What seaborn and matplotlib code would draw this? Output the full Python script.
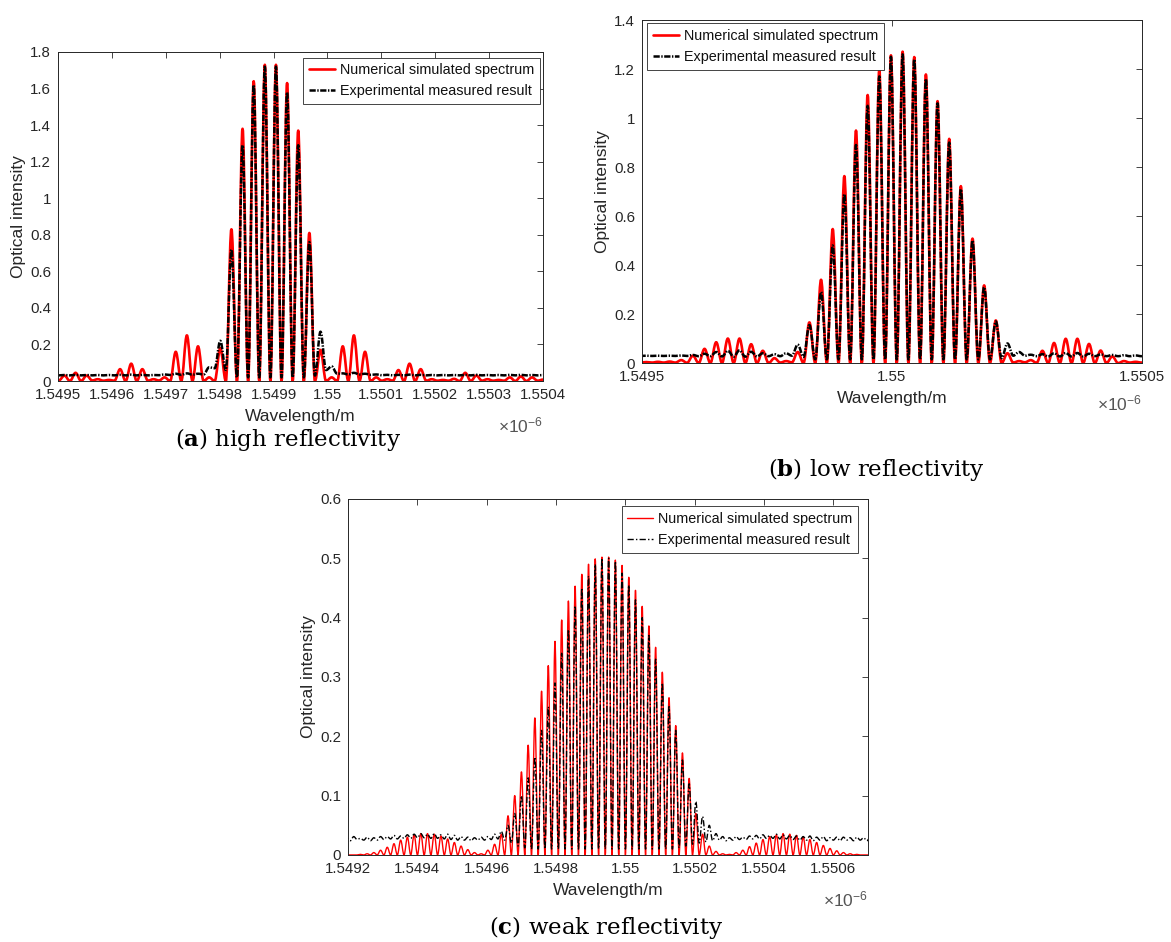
import numpy as np
import pandas as pd
import matplotlib
matplotlib.use("Agg")
import matplotlib.pyplot as plt
import seaborn as sns
from matplotlib.lines import Line2D
from matplotlib.patches import PathPatch
from matplotlib.path import Path
from matplotlib.ticker import FixedLocator, FuncFormatter

# ---------------------------------------------------------------------------
# Fringe data: each spectrum is stored as the heights of its fringe maxima and
# of the minima between them, on a regular fringe grid (wavelengths in nm).
# ---------------------------------------------------------------------------

# (a) high reflectivity
A_GRID_START = 1549.4913
A_GRID_STEP = 0.02066
A_SIM_PEAK = [0.012, 0.030, 0.045, 0.030, 0.010, 0.006, 0.065, 0.095, 0.065, 0.010,
              0.020, 0.160, 0.250, 0.190, 0.020, 0.180, 0.830, 1.380, 1.640, 1.730,
              1.730, 1.630, 1.370, 0.810, 0.170, 0.020, 0.190, 0.250, 0.160, 0.020,
              0.010, 0.060, 0.095, 0.065, 0.010, 0.006, 0.012, 0.045, 0.030, 0.010,
              0.006, 0.020, 0.025, 0.020, 0.008]
A_SIM_TROUGH = [0.005, 0.003, 0.000, 0.000, 0.003, 0.002, 0.002, 0.000, 0.000, 0.002,
                0.003, 0.000, 0.000, 0.000, 0.000, 0.000, 0.000, 0.000, 0.000, 0.000,
                0.000, 0.000, 0.000, 0.000, 0.000, 0.000, 0.000, 0.000, 0.000, 0.000,
                0.002, 0.002, 0.000, 0.000, 0.002, 0.002, 0.002, 0.000, 0.000, 0.002,
                0.002, 0.002, 0.000, 0.000, 0.002, 0.004]
A_EXP_PEAK = [0.033, 0.033, 0.034, 0.033, 0.033, 0.033, 0.034, 0.035, 0.034, 0.033,
              0.036, 0.040, 0.042, 0.040, 0.075, 0.220, 0.720, 1.290, 1.620, 1.720,
              1.720, 1.580, 1.290, 0.760, 0.270, 0.080, 0.042, 0.045, 0.040, 0.036,
              0.034, 0.034, 0.035, 0.034, 0.033, 0.033, 0.033, 0.034, 0.034, 0.033,
              0.033, 0.034, 0.034, 0.033, 0.033]
A_EXP_TROUGH = [0.031, 0.031, 0.031, 0.031, 0.031, 0.031, 0.031, 0.031, 0.031, 0.031,
                0.032, 0.033, 0.034, 0.035, 0.036, 0.070, 0.060, 0.020, 0.020, 0.020,
                0.020, 0.020, 0.020, 0.020, 0.030, 0.060, 0.040, 0.036, 0.036, 0.034,
                0.032, 0.031, 0.031, 0.031, 0.031, 0.031, 0.031, 0.031, 0.031, 0.031,
                0.031, 0.031, 0.031, 0.031, 0.031, 0.031]
A_XTICKS = [1.5495, 1.5496, 1.5497, 1.5498, 1.5499, 1.5500, 1.5501, 1.5502, 1.5503, 1.5504]
A_YTICKS = [0, 0.2, 0.4, 0.6, 0.8, 1.0, 1.2, 1.4, 1.6, 1.8]

# (b) low reflectivity
B_GRID_START = 1549.4854
B_GRID_STEP = 0.0233
B_SIM_PEAK = [0.004, 0.004, 0.005, 0.006, 0.012, 0.030, 0.058, 0.085, 0.100, 0.100,
              0.077, 0.050, 0.020, 0.008, 0.045, 0.166, 0.340, 0.547, 0.763, 0.949,
              1.094, 1.196, 1.256, 1.271, 1.249, 1.178, 1.069, 0.915, 0.722, 0.508,
              0.317, 0.174, 0.040, 0.008, 0.012, 0.050, 0.082, 0.099, 0.099, 0.078,
              0.051, 0.027, 0.008, 0.005, 0.004]
B_SIM_TROUGH = [0.002, 0.002, 0.002, 0.002, 0.002, 0.001, 0.000, 0.000, 0.000, 0.000,
                0.000, 0.000, 0.000, 0.002, 0.003, 0.000, 0.000, 0.000, 0.000, 0.000,
                0.000, 0.000, 0.000, 0.000, 0.000, 0.000, 0.000, 0.000, 0.000, 0.000,
                0.000, 0.000, 0.000, 0.002, 0.003, 0.001, 0.000, 0.000, 0.000, 0.000,
                0.000, 0.000, 0.000, 0.002, 0.002, 0.002]
B_EXP_PEAK = [0.030, 0.030, 0.030, 0.030, 0.031, 0.033, 0.038, 0.045, 0.050, 0.052,
              0.046, 0.040, 0.036, 0.040, 0.075, 0.155, 0.290, 0.480, 0.690, 0.890,
              1.050, 1.170, 1.250, 1.260, 1.240, 1.160, 1.060, 0.900, 0.710, 0.500,
              0.310, 0.170, 0.080, 0.045, 0.034, 0.036, 0.040, 0.041, 0.041, 0.038,
              0.035, 0.033, 0.032, 0.031, 0.031]
B_EXP_TROUGH = [0.029, 0.029, 0.029, 0.029, 0.029, 0.029, 0.028, 0.028, 0.027, 0.026,
                0.026, 0.027, 0.028, 0.028, 0.030, 0.025, 0.015, 0.015, 0.015, 0.015,
                0.015, 0.015, 0.015, 0.015, 0.015, 0.015, 0.015, 0.015, 0.015, 0.015,
                0.015, 0.015, 0.020, 0.030, 0.030, 0.028, 0.027, 0.027, 0.027, 0.027,
                0.028, 0.028, 0.028, 0.028, 0.028, 0.028]
B_XTICKS = [1.5495, 1.5500, 1.5505]
B_YTICKS = [0, 0.2, 0.4, 0.6, 0.8, 1.0, 1.2, 1.4]

# (c) weak reflectivity
C_GRID_START = 1549.1971
C_GRID_STEP = 0.01935
C_SIM_PEAK = [0.000, 0.000, 0.001, 0.002, 0.004, 0.008, 0.013, 0.019, 0.025, 0.030,
              0.034, 0.036, 0.036, 0.035, 0.032, 0.027, 0.021, 0.015, 0.009, 0.004,
              0.002, 0.008, 0.018, 0.035,
              0.066, 0.100, 0.140, 0.185, 0.231, 0.276, 0.319, 0.360, 0.396, 0.428,
              0.453, 0.473, 0.490, 0.499, 0.502, 0.502, 0.497, 0.488, 0.468, 0.446,
              0.419, 0.386, 0.350, 0.308, 0.265, 0.218, 0.172, 0.129, 0.070, 0.035,
              0.015, 0.006, 0.002, 0.001, 0.004, 0.008, 0.014, 0.020, 0.026, 0.031,
              0.034, 0.036, 0.035, 0.033, 0.030, 0.026, 0.021, 0.016, 0.011, 0.007,
              0.004, 0.002, 0.001, 0.000, 0.000]
C_SIM_TROUGH = [0.0, 0.0, 0.0, 0.0, 0.0, 0.0, 0.0, 0.0, 0.0, 0.0,
                0.0, 0.0, 0.0, 0.0, 0.0, 0.0, 0.0, 0.0, 0.0, 0.0,
                0.0, 0.0, 0.0, 0.0, 0.0, 0.0, 0.0, 0.0, 0.0, 0.0,
                0.0, 0.0, 0.0, 0.0, 0.0, 0.0, 0.0, 0.0, 0.0, 0.0,
                0.0, 0.0, 0.0, 0.0, 0.0, 0.0, 0.0, 0.0, 0.0, 0.0,
                0.0, 0.0, 0.0, 0.0, 0.0, 0.0, 0.0, 0.0, 0.0, 0.0,
                0.0, 0.0, 0.0, 0.0, 0.0, 0.0, 0.0, 0.0, 0.0, 0.0,
                0.0, 0.0, 0.0, 0.0, 0.0, 0.0, 0.0, 0.0, 0.0, 0.0]
C_EXP_PEAK = [0.029, 0.031, 0.028, 0.030, 0.029, 0.031, 0.031, 0.033, 0.032, 0.034,
              0.035, 0.036, 0.035, 0.036, 0.034, 0.035, 0.033, 0.031, 0.030, 0.029,
              0.030, 0.031, 0.035, 0.040,
              0.050, 0.070, 0.100, 0.130, 0.165, 0.210, 0.250, 0.290, 0.340, 0.380,
              0.420, 0.450, 0.470, 0.490, 0.500, 0.500, 0.495, 0.475, 0.455, 0.430,
              0.400, 0.370, 0.330, 0.290, 0.250, 0.210, 0.160, 0.120, 0.090, 0.065,
              0.050, 0.036, 0.031, 0.029, 0.031, 0.030, 0.032, 0.033, 0.034, 0.033,
              0.035, 0.034, 0.033, 0.032, 0.031, 0.032, 0.030, 0.031, 0.029, 0.030,
              0.030, 0.029, 0.030, 0.029, 0.030]
C_EXP_TROUGH = [0.025, 0.024, 0.026, 0.025, 0.024, 0.025, 0.026, 0.027, 0.027, 0.028,
                0.028, 0.029, 0.029, 0.028, 0.028, 0.027, 0.026, 0.025, 0.025, 0.024,
                0.025, 0.025, 0.026, 0.027, 0.025, 0.020, 0.015, 0.012, 0.010, 0.010,
                0.010, 0.010, 0.010, 0.010, 0.010, 0.010, 0.010, 0.010, 0.010, 0.010,
                0.010, 0.010, 0.010, 0.010, 0.010, 0.010, 0.010, 0.010, 0.010, 0.010,
                0.012, 0.015, 0.018, 0.020, 0.022, 0.024, 0.025, 0.024, 0.025, 0.026,
                0.026, 0.027, 0.027, 0.028, 0.028, 0.027, 0.027, 0.026, 0.025, 0.025,
                0.024, 0.025, 0.024, 0.025, 0.024, 0.025, 0.024, 0.025, 0.024, 0.025]
C_XTICKS = [1.5492, 1.5494, 1.5496, 1.5498, 1.5500, 1.5502, 1.5504, 1.5506]
C_YTICKS = [0, 0.1, 0.2, 0.3, 0.4, 0.5, 0.6]

SERIES_LABELS = ["Numerical simulated spectrum", "Experimental measured result"]
CAPTIONS = [("a", "high reflectivity"), ("b", "low reflectivity"), ("c", "weak reflectivity")]

# ---------------------------------------------------------------------------
# Styling
# ---------------------------------------------------------------------------
sns.set_theme(style="white")
plt.rcParams["font.family"] = ["Liberation Sans", "DejaVu Sans"]
plt.rcParams["lines.scale_dashes"] = False
plt.rcParams["lines.solid_joinstyle"] = "round"
plt.rcParams["lines.dash_joinstyle"] = "round"
plt.rcParams["lines.solid_capstyle"] = "round"

INK = "#262626"
SIM_COLOR = "#ff0000"
EXP_COLOR = "#000000"


def fringe_table(start, step, peaks, troughs):
    """Alternating minimum / maximum vertices of a fringe spectrum (x in um)."""
    peaks = np.asarray(peaks, dtype=float)
    troughs = np.asarray(troughs, dtype=float)
    n = len(peaks)
    peak_x = start + np.arange(n) * step
    trough_x = start + (np.arange(n + 1) - 0.5) * step
    x = np.empty(2 * n + 1)
    y = np.empty(2 * n + 1)
    x[0::2], x[1::2] = trough_x, peak_x
    y[0::2], y[1::2] = troughs, peaks
    return pd.DataFrame({"wavelength": x / 1000.0, "intensity": y})


def smooth_fringes(ax, line, dashes=None):
    """Redraw a seaborn line as a smooth curve through its extrema
    (cubic segments with flat tangents at every maximum and minimum)."""
    xy = line.get_xydata()
    verts = [tuple(xy[0])]
    codes = [Path.MOVETO]
    for (x0, y0), (x1, y1) in zip(xy[:-1], xy[1:]):
        dx = x1 - x0
        verts += [(x0 + 0.36 * dx, y0), (x1 - 0.36 * dx, y1), (x1, y1)]
        codes += [Path.CURVE4] * 3
    patch = PathPatch(Path(verts, codes), fill=False, edgecolor=line.get_color(),
                      lw=line.get_linewidth(), joinstyle="round",
                      capstyle="round" if dashes is None else "butt")
    if dashes is not None:
        patch.set_linestyle((0, dashes))
    line.remove()
    ax.add_patch(patch)
    return patch


def fmt(v, _pos):
    return f"{round(v, 6):g}"


def draw_panel(ax, grid, sim, exp, xlim, xticks, ylim, yticks,
               lw_sim, lw_exp, dashes, legend_loc, legend_anchor, mult_drop):
    start, step = grid
    sim_df = fringe_table(start, step, *sim)
    exp_df = fringe_table(start, step, *exp)

    sns.lineplot(data=sim_df, x="wavelength", y="intensity", ax=ax, color=SIM_COLOR,
                 lw=lw_sim, sort=False, estimator=None)
    smooth_fringes(ax, ax.lines[-1])
    sns.lineplot(data=exp_df, x="wavelength", y="intensity", ax=ax, color=EXP_COLOR,
                 lw=lw_exp, sort=False, estimator=None)
    smooth_fringes(ax, ax.lines[-1], dashes)

    ax.set_xlim(*xlim)
    ax.set_ylim(*ylim)
    ax.xaxis.set_major_locator(FixedLocator(xticks))
    ax.yaxis.set_major_locator(FixedLocator(yticks))
    ax.xaxis.set_major_formatter(FuncFormatter(fmt))
    ax.yaxis.set_major_formatter(FuncFormatter(fmt))
    ax.tick_params(direction="in", length=4, width=0.6, top=True, right=True,
                   colors=INK, labelsize=10.8, pad=5)
    for sp in ax.spines.values():
        sp.set_color(INK)
        sp.set_linewidth(0.7)
        sp.set_zorder(3)

    ax.set_xlabel("Wavelength/m", fontsize=12.5, color=INK, labelpad=5)
    ax.set_ylabel("Optical intensity", fontsize=12.5, color=INK, labelpad=3)

    ax.annotate(r"$\mathregular{\times10^{-6}}$", xy=(1.0, 0.0), xycoords="axes fraction",
                xytext=(0, -mult_drop), textcoords="offset points",
                ha="right", va="top", fontsize=12.5, color="#555555")

    handles = [Line2D([], [], color=SIM_COLOR, lw=lw_sim),
               Line2D([], [], color=EXP_COLOR, lw=lw_exp, dashes=dashes)]
    leg = ax.legend(handles, SERIES_LABELS, loc=legend_loc, bbox_to_anchor=legend_anchor,
                    borderaxespad=0.0, frameon=True, fancybox=False, framealpha=1.0,
                    edgecolor=INK, fontsize=10.4, handlelength=1.8, handletextpad=0.3,
                    borderpad=0.4, labelspacing=0.45)
    leg.get_frame().set_linewidth(0.6)
    leg.set_zorder(5)
    for t in leg.get_texts():
        t.set_color("#111111")


fig = plt.figure(figsize=(11.71, 9.42), dpi=100, facecolor="white")

ax_a = fig.add_axes([0.0495, 0.5955, 0.4142, 0.3493])
ax_b = fig.add_axes([0.5482, 0.6146, 0.4270, 0.3641])
ax_c = fig.add_axes([0.2972, 0.0924, 0.4441, 0.3779])

draw_panel(ax_a, (A_GRID_START, A_GRID_STEP), (A_SIM_PEAK, A_SIM_TROUGH),
           (A_EXP_PEAK, A_EXP_TROUGH), (1.5495, 1.5504), A_XTICKS, (0, 1.8), A_YTICKS,
           lw_sim=1.9, lw_exp=1.8, dashes=(4.5, 1.1, 1.0, 1.1),
           legend_loc="upper right", legend_anchor=(0.993, 0.983), mult_drop=25)
draw_panel(ax_b, (B_GRID_START, B_GRID_STEP), (B_SIM_PEAK, B_SIM_TROUGH),
           (B_EXP_PEAK, B_EXP_TROUGH), (1.5495, 1.5505), B_XTICKS, (0, 1.4), B_YTICKS,
           lw_sim=1.9, lw_exp=1.8, dashes=(4.5, 1.1, 1.0, 1.1),
           legend_loc="upper left", legend_anchor=(0.011, 0.99), mult_drop=22)
draw_panel(ax_c, (C_GRID_START, C_GRID_STEP), (C_SIM_PEAK, C_SIM_TROUGH),
           (C_EXP_PEAK, C_EXP_TROUGH), (1.5492, 1.5507), C_XTICKS, (0, 0.6), C_YTICKS,
           lw_sim=1.0, lw_exp=1.0, dashes=(4.5, 1.6, 1.0, 1.6),
           legend_loc="upper right", legend_anchor=(0.98, 0.979), mult_drop=25)

caption_pos = [(0.246, 0.533), (0.748, 0.502), (0.518, 0.0149)]
for (letter, text), (cx, cy) in zip(CAPTIONS, caption_pos):
    fig.text(cx, cy, rf"($\mathbf{{{letter}}}$) {text}", ha="center", va="center",
             fontsize=16.5, family="DejaVu Serif", math_fontfamily="dejavuserif",
             color="black")

fig.savefig("out.png", dpi=100, facecolor="white")
